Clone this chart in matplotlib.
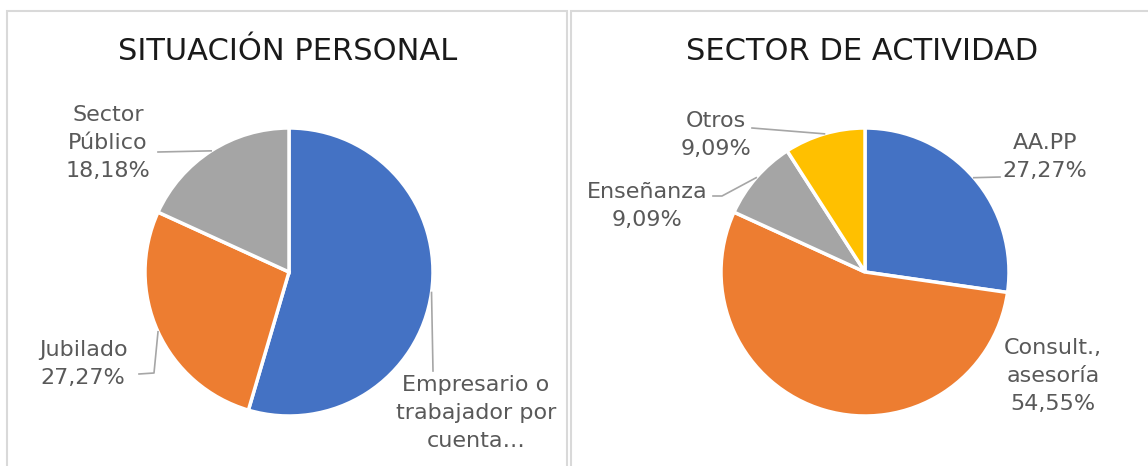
import numpy as np
import matplotlib.pyplot as plt
from matplotlib.patches import Rectangle

# ---- data ----
personal_labels = ['Empresario o\ntrabajador por\ncuenta…', 'Jubilado', 'Sector\nPúblico']
personal_values = [54.55, 27.27, 18.18]
personal_show_pct = [False, True, True]   # first label is truncated in the original
personal_colors = ['#4472C4', '#ED7D31', '#A5A5A5']

sector_labels = ['AA.PP', 'Consult.,\nasesoría', 'Enseñanza', 'Otros']
sector_values = [27.27, 54.55, 9.09, 9.09]
sector_show_pct = [True, True, True, True]
sector_colors = ['#4472C4', '#ED7D31', '#A5A5A5', '#FFC000']

W, H = 1148, 466
TXT = '#595959'
LINE = '#A6A6A6'
plt.rcParams['font.family'] = ['DejaVu Sans']


def P(x, y):
    # image pixel coords -> data coords (y up)
    return x, H - y


def pct(v):
    return f'{v:.2f}%'.replace('.', ',')


fig = plt.figure(figsize=(W / 100, H / 100), dpi=100)
ax = fig.add_axes([0, 0, 1, 1])

# panel frames
ax.add_patch(Rectangle(P(7, 480), 560, 469, fill=False, ec='#D9D9D9', lw=1.5))
ax.add_patch(Rectangle(P(571, 480), 600, 469, fill=False, ec='#D9D9D9', lw=1.5))


def draw_pie(values, labels, show_pct, colors, center, title, title_x, label_pos, leaders):
    wedges, _ = ax.pie(values, colors=colors, startangle=90, counterclock=False,
                       center=P(*center), radius=144, frame=True,
                       wedgeprops=dict(edgecolor='white', linewidth=2.5))
    ax.text(*P(title_x, 52), title, ha='center', va='center', fontsize=22, color='#1a1a1a')
    cx, cy = P(*center)
    for w, lab, v, sp, pos, pts in zip(wedges, labels, values, show_pct, label_pos, leaders):
        a = np.deg2rad((w.theta1 + w.theta2) / 2)
        ex, ey = cx + 144 * np.cos(a), cy + 144 * np.sin(a)
        if pts:
            xs = [ex] + [p[0] for p in pts]
            ys = [ey] + [H - p[1] for p in pts]
            ax.plot(xs, ys, color=LINE, lw=1.2)
        txt = lab + ('\n' + pct(v) if sp else '')
        ax.text(*P(*pos), txt, ha='center', va='center',
                fontsize=16, color=TXT, linespacing=1.5)


draw_pie(personal_values, personal_labels, personal_show_pct, personal_colors, (289, 272),
         'SITUACIÓN PERSONAL', 288,
         [(476, 413), (83, 364), (108, 143)],
         [[(433, 371)], [(154, 373), (139, 374)], [(158, 152)]])

draw_pie(sector_values, sector_labels, sector_show_pct, sector_colors, (865, 272),
         'SECTOR DE ACTIVIDAD', 862,
         [(1045, 157), (1053, 376), (647, 206), (716, 135)],
         [[(1000, 177)], None, [(722, 196), (713, 196)], [(752, 128)]])

ax.set_xlim(0, W)
ax.set_ylim(0, H)
ax.axis('off')

fig.savefig('out.png', dpi=100)
